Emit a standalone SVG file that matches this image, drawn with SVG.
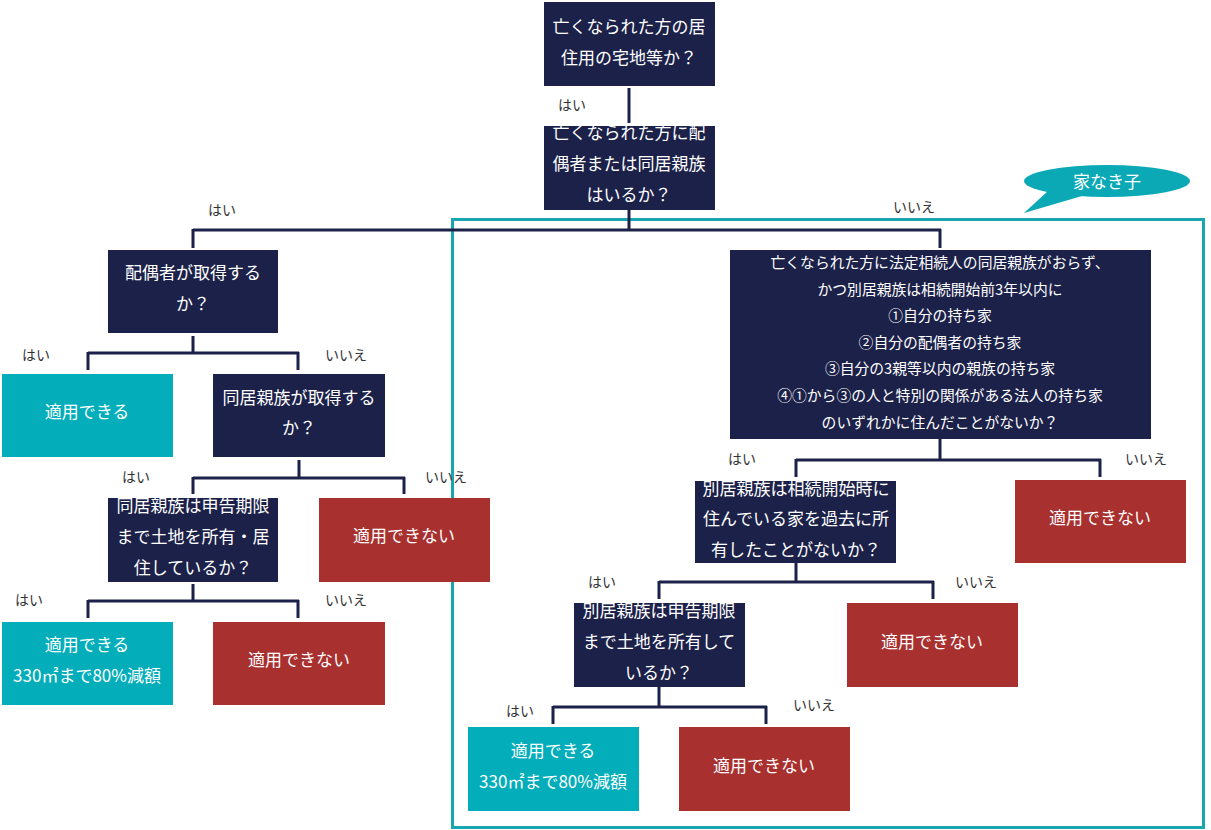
<svg xmlns="http://www.w3.org/2000/svg" width="1211" height="830" viewBox="0 0 1211 830">
<style>
.navy{fill:#1c2149}
.red{fill:#a8302f}
.teal{fill:#04adba}
.t{font-family:"Noto Sans CJK JP","Noto Sans",sans-serif;font-size:17px;fill:#ffffff;text-anchor:middle}
.s{font-family:"Noto Sans CJK JP","Noto Sans",sans-serif;font-size:14.8px;fill:#ffffff;text-anchor:middle}
.lab{font-family:"Noto Sans CJK JP","Noto Sans",sans-serif;font-size:14px;fill:#333333;text-anchor:start}
.c{fill:none;stroke:#1c2149;stroke-width:3}
</style>
<defs>
<clipPath id="cp2"><rect x="544" y="126" width="171" height="84"/></clipPath>
<clipPath id="cp5"><rect x="108" y="498" width="170" height="84"/></clipPath>
<clipPath id="cp9"><rect x="695" y="481" width="201" height="82"/></clipPath>
<clipPath id="cp11"><rect x="574" y="603" width="171" height="84"/></clipPath>
</defs>
<rect width="1211" height="830" fill="#ffffff"/>

<g id="frame">
<rect x="452.5" y="219.5" width="751" height="608" fill="none" stroke="#1aa6b0" stroke-width="3"/>
</g>
<g id="bubble">
<path d="M1048,191 L1024,213 L1082,196 Z" fill="#0aa9b5"/>
<ellipse cx="1107" cy="181" rx="83" ry="16" fill="#0aa9b5"/>
<text class="t" x="1107" y="188" font-size="19">家なき子</text>
</g>

<g id="connectors">
<path class="c" d="M629,88 V123"/>
<path class="c" d="M629,210 V230 M193,230 H941 M193,229 V248 M940,229 V248"/>
<path class="c" d="M193,336 V353 M88,353 H299 M88,352 V370 M298,352 V370"/>
<path class="c" d="M299,460 V478 M193,478 H405 M193,477 V494 M404,477 V494"/>
<path class="c" d="M193,584 V601 M88,601 H299 M88,600 V618 M298,600 V618"/>
<path class="c" d="M940,439 V460 M796,460 H1101 M796,459 V477 M1100,459 V477"/>
<path class="c" d="M796,563 V582 M659,582 H934 M659,581 V599 M933,581 V599"/>
<path class="c" d="M659,687 V707 M553,707 H767 M553,706 V724 M766,706 V724"/>
</g>

<g id="labels">
<text class="lab" x="558" y="110">はい</text>
<text class="lab" x="208" y="215">はい</text>
<text class="lab" x="893" y="212">いいえ</text>
<text class="lab" x="22" y="360">はい</text>
<text class="lab" x="325" y="360">いいえ</text>
<text class="lab" x="122" y="482">はい</text>
<text class="lab" x="425" y="482">いいえ</text>
<text class="lab" x="15" y="605">はい</text>
<text class="lab" x="325" y="605">いいえ</text>
<text class="lab" x="728" y="464">はい</text>
<text class="lab" x="1125" y="464">いいえ</text>
<text class="lab" x="588" y="587">はい</text>
<text class="lab" x="955" y="587">いいえ</text>
<text class="lab" x="506" y="716">はい</text>
<text class="lab" x="793" y="710">いいえ</text>
</g>

<g id="n1">
<rect class="navy" x="544" y="2" width="171" height="84"/>
<text class="t" x="629" y="33">亡くなられた方の居</text>
<text class="t" x="629" y="64">住用の宅地等か？</text>
</g>
<g id="n2">
<rect class="navy" x="544" y="126" width="171" height="84"/>
<g clip-path="url(#cp2)">
<text class="t" x="629" y="139">亡くなられた方に配</text>
<text class="t" x="629" y="170">偶者または同居親族</text>
<text class="t" x="629" y="201">はいるか？</text>
</g>
</g>
<g id="n3">
<rect class="navy" x="108" y="250" width="170" height="83"/>
<text class="t" x="193" y="279">配偶者が取得する</text>
<text class="t" x="193" y="310">か？</text>
</g>
<g id="n4">
<rect class="teal" x="2" y="374" width="171" height="83"/>
<text class="t" x="87" y="418">適用できる</text>
</g>
<g id="n5">
<rect class="navy" x="213" y="374" width="172" height="83"/>
<text class="t" x="299" y="404">同居親族が取得する</text>
<text class="t" x="299" y="434">か？</text>
</g>
<g id="n6">
<rect class="navy" x="108" y="498" width="170" height="84"/>
<g clip-path="url(#cp5)">
<text class="t" x="193" y="512">同居親族は申告期限</text>
<text class="t" x="193" y="543">まで土地を所有・居</text>
<text class="t" x="193" y="574">住しているか？</text>
</g>
</g>
<g id="n7">
<rect class="red" x="319" y="498" width="171" height="84"/>
<text class="t" x="404" y="542">適用できない</text>
</g>
<g id="n8">
<rect class="teal" x="2" y="622" width="171" height="83"/>
<text class="t" x="87" y="651">適用できる</text>
<text class="t" x="87" y="682">330㎡まで80%減額</text>
</g>
<g id="n9">
<rect class="red" x="213" y="622" width="172" height="83"/>
<text class="t" x="299" y="666">適用できない</text>
</g>
<g id="n10">
<rect class="navy" x="730" y="250" width="421" height="189"/>
<text class="s" x="940" y="268">亡くなられた方に法定相続人の同居親族がおらず、</text>
<text class="s" x="940" y="295">かつ別居親族は相続開始前3年以内に</text>
<text class="s" x="940" y="321">①自分の持ち家</text>
<text class="s" x="940" y="348">②自分の配偶者の持ち家</text>
<text class="s" x="940" y="374">③自分の3親等以内の親族の持ち家</text>
<text class="s" x="940" y="401">④①から③の人と特別の関係がある法人の持ち家</text>
<text class="s" x="940" y="428">のいずれかに住んだことがないか？</text>
</g>
<g id="n11">
<rect class="navy" x="695" y="481" width="201" height="82"/>
<g clip-path="url(#cp9)">
<text class="t" x="796" y="495">別居親族は相続開始時に</text>
<text class="t" x="796" y="525">住んでいる家を過去に所</text>
<text class="t" x="796" y="556">有したことがないか？</text>
</g>
</g>
<g id="n12">
<rect class="red" x="1015" y="480" width="171" height="83"/>
<text class="t" x="1100" y="524">適用できない</text>
</g>
<g id="n13">
<rect class="navy" x="574" y="603" width="171" height="84"/>
<g clip-path="url(#cp11)">
<text class="t" x="659" y="617">別居親族は申告期限</text>
<text class="t" x="659" y="648">まで土地を所有して</text>
<text class="t" x="659" y="679">いるか？</text>
</g>
</g>
<g id="n14">
<rect class="red" x="847" y="603" width="171" height="84"/>
<text class="t" x="932" y="648">適用できない</text>
</g>
<g id="n15">
<rect class="teal" x="468" y="727" width="171" height="84"/>
<text class="t" x="553" y="757">適用できる</text>
<text class="t" x="553" y="788">330㎡まで80%減額</text>
</g>
<g id="n16">
<rect class="red" x="679" y="727" width="171" height="84"/>
<text class="t" x="764" y="772">適用できない</text>
</g>
</svg>
